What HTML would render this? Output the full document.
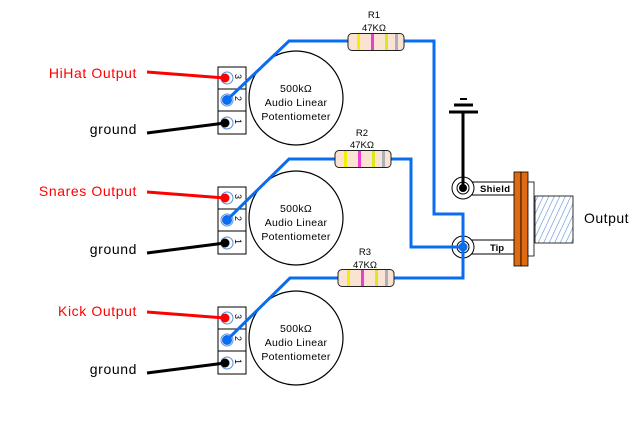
<!DOCTYPE html>
<html><head><meta charset="utf-8"><style>
html,body{margin:0;padding:0;background:#fff;width:642px;height:431px;overflow:hidden}
svg{display:block}
text{font-family:"Liberation Sans","DejaVu Sans",sans-serif}
</style></head><body>
<svg width="642" height="431" viewBox="0 0 642 431" xmlns="http://www.w3.org/2000/svg">
<defs>
<pattern id="h" width="5" height="5" patternUnits="userSpaceOnUse" patternTransform="rotate(25)">
<line x1="0" y1="0" x2="0" y2="5" stroke="#5b8fd6" stroke-width="1.2"/>
</pattern>
<g id="pot">
<rect x="218" y="67" width="28" height="22" fill="#fff" stroke="#000"/>
<rect x="218" y="89" width="28" height="22" fill="#fff" stroke="#000"/>
<rect x="218" y="111" width="28" height="23" fill="#fff" stroke="#000"/>
<circle cx="296" cy="98" r="47" fill="#fff" stroke="#000" stroke-width="1.2"/>
<text x="296" y="92" font-size="10.5" text-anchor="middle" letter-spacing="0.3">500kΩ</text>
<text x="296" y="106" font-size="10.5" text-anchor="middle" letter-spacing="0.3">Audio Linear</text>
<text x="296" y="120" font-size="10.5" text-anchor="middle" letter-spacing="0.3">Potentiometer</text>
<circle cx="227" cy="78" r="6" fill="#fff" stroke="#5b8fd6"/>
<circle cx="227" cy="100" r="6" fill="#fff" stroke="#5b8fd6"/>
<circle cx="227" cy="123" r="6" fill="#fff" stroke="#5b8fd6"/>
<text font-size="9" transform="translate(235,74) rotate(90)">3</text>
<text font-size="9" transform="translate(235,96) rotate(90)">2</text>
<text font-size="9" transform="translate(235,119) rotate(90)">1</text>
<line x1="147" y1="72" x2="225" y2="78" stroke="#f00" stroke-width="3"/>
<circle cx="225" cy="78" r="4.5" fill="#f00"/>
<line x1="147" y1="133" x2="225" y2="123" stroke="#000" stroke-width="3"/>
<circle cx="225" cy="123" r="4.5" fill="#000"/>
<text x="137" y="134" font-size="14" text-anchor="end" letter-spacing="0.6">ground</text>
</g>
<g id="res">
<rect x="0" y="-8.5" width="56" height="17" rx="4" fill="#fbe3d4" stroke="#222"/>
<rect x="9" y="-8" width="3" height="16" fill="#f0f000"/>
<rect x="23" y="-8" width="3" height="16" fill="#f03ad8"/>
<rect x="37" y="-8" width="3" height="16" fill="#d8e81a"/>
<rect x="47" y="-8" width="3" height="16" fill="#aab0b8"/>
</g>
</defs>
<use href="#pot"/>
<use href="#pot" y="120"/>
<use href="#pot" y="240"/>
<text x="137" y="78" font-size="14" fill="#f00" text-anchor="end" letter-spacing="0.6">HiHat Output</text>
<text x="137" y="196" font-size="14" fill="#f00" text-anchor="end" letter-spacing="0.6">Snares Output</text>
<text x="137" y="316" font-size="14" fill="#f00" text-anchor="end" letter-spacing="0.6">Kick Output</text>
<g fill="none" stroke="#0a6cf0" stroke-width="3">
<polyline points="227,100 289,41 434,41 434,214 463,214 463,278 393,278"/>
<polyline points="227,220 289,159 411,159 411,247 463,247"/>
<polyline points="227,340 290,278 340,278"/>
</g>
<circle cx="227" cy="100" r="5" fill="#0a6cf0"/>
<circle cx="227" cy="220" r="5" fill="#0a6cf0"/>
<circle cx="227" cy="340" r="5" fill="#0a6cf0"/>
<use href="#res" x="348" y="42"/>
<use href="#res" x="335" y="159"/>
<use href="#res" x="338" y="278"/>
<text x="374" y="18" font-size="9.5" text-anchor="middle">R1</text>
<text x="374" y="31" font-size="9.5" text-anchor="middle">47KΩ</text>
<text x="362" y="136" font-size="9.5" text-anchor="middle">R2</text>
<text x="362" y="148" font-size="9.5" text-anchor="middle">47KΩ</text>
<text x="365" y="255" font-size="9.5" text-anchor="middle">R3</text>
<text x="365" y="268" font-size="9.5" text-anchor="middle">47KΩ</text>
<line x1="449" y1="112" x2="478" y2="112" stroke="#000" stroke-width="3"/>
<line x1="454" y1="105" x2="473" y2="105" stroke="#000" stroke-width="3"/>
<line x1="460" y1="99" x2="467" y2="99" stroke="#000" stroke-width="2"/>
<rect x="470" y="182" width="44" height="13" fill="#fff" stroke="#000"/>
<rect x="470" y="240" width="44" height="14" fill="#fff" stroke="#000"/>
<text x="480" y="192" font-size="9.5" font-weight="bold" letter-spacing="0.3">Shield</text>
<text x="490" y="251" font-size="9.5" font-weight="bold">Tip</text>
<circle cx="463" cy="188" r="11" fill="#fff" stroke="#000"/>
<circle cx="463" cy="188" r="6" fill="#fff" stroke="#000"/>
<circle cx="463" cy="188" r="4" fill="#000"/>
<line x1="463" y1="112" x2="463" y2="188" stroke="#000" stroke-width="3"/>
<circle cx="463" cy="247" r="11" fill="#fff" stroke="#000"/>
<circle cx="463" cy="247" r="6" fill="#fff" stroke="#000"/>
<polyline points="463,214 463,278" fill="none" stroke="#0a6cf0" stroke-width="3"/>
<line x1="434" y1="247" x2="463" y2="247" stroke="#0a6cf0" stroke-width="3"/>
<circle cx="463" cy="247" r="4.5" fill="#0a6cf0"/>
<rect x="514" y="172" width="7" height="94" fill="#e06a10" stroke="#000" stroke-width="0.8"/>
<rect x="521" y="172" width="7" height="94" fill="#e06a10" stroke="#000" stroke-width="0.8"/>
<rect x="528" y="182" width="6" height="74" fill="#fff" stroke="#000" stroke-width="0.8"/>
<rect x="535" y="196" width="38" height="47" fill="url(#h)" stroke="#000" stroke-width="0.8"/>
<text x="584" y="223" font-size="14" letter-spacing="0.5">Output</text>
</svg>
</body></html>
